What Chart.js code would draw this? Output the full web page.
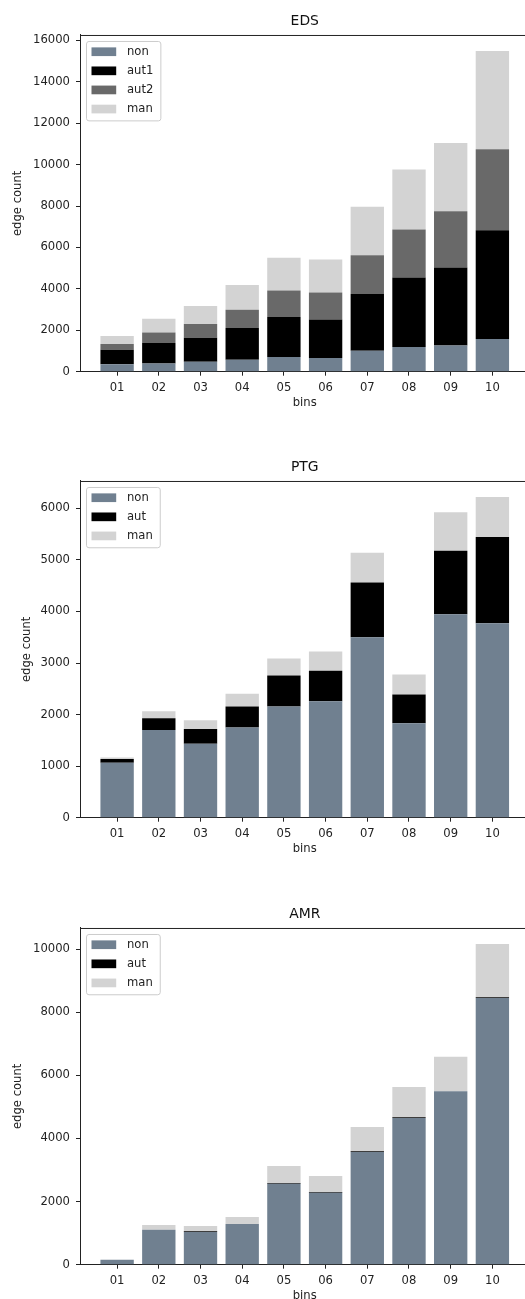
<!DOCTYPE html>
<html>
<head>
<meta charset="utf-8">
<script src="https://cdn.jsdelivr.net/npm/chart.js@4.4.1/dist/chart.umd.min.js"></script>
<style>
  html, body { margin: 0; padding: 0; background: #fff; overflow: hidden; }
  .fig { position: absolute; left: 0; width: 609px; height: 446px; }
</style>
</head>
<body>
<div class="fig" style="top:0px"><canvas id="eds" width="609" height="446"></canvas></div>
<div class="fig" style="top:446px"><canvas id="ptg" width="609" height="446"></canvas></div>
<div class="fig" style="top:893px"><canvas id="amr" width="609" height="446"></canvas></div>
<script>
const bins = ["01", "02", "03", "04", "05", "06", "07", "08", "09", "10"];

// EDS
const edsNon  = [354, 402, 482, 579, 708, 659, 1013, 1190, 1270, 1585];
const edsAut1 = [707, 981, 1158, 1527, 1929, 1866, 2734, 3361, 3763, 5250];
const edsAut2 = [274, 514, 659, 885, 1286, 1302, 1881, 2315, 2717, 3907];
const edsMan  = [385, 660, 869, 1190, 1576, 1592, 2332, 2894, 3297, 4744];

// PTG
const ptgNon = [1066, 1699, 1434, 1750, 2157, 2261, 3501, 1834, 3946, 3772];
const ptgAut = [71, 232, 284, 407, 601, 587, 1059, 556, 1234, 1673];
const ptgMan = [32, 136, 174, 246, 329, 375, 581, 387, 743, 775];

// AMR
const amrNon = [158, 1109, 1035, 1288, 2566, 2281, 3569, 4646, 5491, 8448];
const amrAut = [0, 0, 25, 0, 25, 25, 25, 25, 0, 25];
const amrMan = [0, 148, 165, 222, 535, 503, 767, 957, 1098, 1685];

const SLATE = "#708090", BLACK = "#000000", DIM = "#696969", LIGHT = "#d3d3d3";

Chart.defaults.font.family = "'DejaVu Sans', sans-serif";
Chart.defaults.font.size = 11.6;
Chart.defaults.color = "#222";

// matplotlib style frame + legend box in the upper left
const frameLegend = {
    id: "frameLegend",
    afterDraw(chart) {
        const ctx = chart.ctx;
        const a = chart.chartArea;
        ctx.save();
        ctx.strokeStyle = "#222";
        ctx.lineWidth = 1;
        ctx.beginPath();
        ctx.moveTo(a.left, a.top + 0.5);
        ctx.lineTo(a.right, a.top + 0.5);
        ctx.lineTo(a.right, a.bottom);
        ctx.stroke();

        const sets = chart.data.datasets;
        ctx.font = "11.6px 'DejaVu Sans'";
        const tw = Math.max(...sets.map(d => ctx.measureText(d.label).width));
        const x = a.left + 6.5, y = a.top + 6.5;
        const w = tw + 48, h = sets.length * 19.1 + 3;
        ctx.beginPath();
        ctx.roundRect(x, y, w, h, 2.5);
        ctx.fillStyle = "rgba(255,255,255,0.8)";
        ctx.fill();
        ctx.strokeStyle = "#cccccc";
        ctx.stroke();
        ctx.textBaseline = "middle";
        sets.forEach((d, i) => {
            const cy = y + 10.2 + i * 19.1;
            ctx.fillStyle = d.backgroundColor;
            ctx.fillRect(x + 5, cy - 4.3, 24.7, 8.7);
            ctx.fillStyle = "#222";
            ctx.fillText(d.label, x + 40.5, cy);
        });
        ctx.restore();
    }
};

function makeChart(id, title, series, yStep, yTitlePad) {
    const totals = bins.map((_, i) => series.reduce((s, d) => s + d.data[i], 0));
    const yMax = Math.max(...totals) * 1.05;

    new Chart(document.getElementById(id), {
        type: "bar",
        data: {
            datasets: series.map(s => ({
                label: s.label,
                data: s.data.map((v, i) => ({ x: i, y: v })),
                backgroundColor: s.color,
                borderWidth: 0,
                categoryPercentage: 1,
                barPercentage: 0.8
            }))
        },
        options: {
            responsive: false,
            animation: false,
            devicePixelRatio: 1,
            layout: { padding: { left: 0, right: 79.5, top: 0, bottom: 34.3 } },
            plugins: {
                legend: { display: false },
                tooltip: { enabled: false },
                title: {
                    display: true,
                    text: title,
                    fullSize: false,
                    color: "#111",
                    font: { size: 13.9, weight: "normal" },
                    padding: { top: 12.7, bottom: 5.6 }
                }
            },
            scales: {
                x: {
                    type: "linear",
                    stacked: true,
                    offset: false,
                    min: -0.89,
                    max: 9.89,
                    grid: { display: true, offset: false, drawOnChartArea: false, drawTicks: true, tickLength: 4, tickColor: "#222" },
                    border: { display: true, color: "#222", width: 1 },
                    ticks: {
                        stepSize: 1,
                        includeBounds: false,
                        autoSkip: false,
                        maxRotation: 0,
                        padding: 5,
                        callback: v => bins[v] !== undefined ? bins[v] : ""
                    },
                    title: { display: true, text: "bins", padding: { top: 0, bottom: 2 } },
                    afterFit: s => { s.height = 40; }
                },
                y: {
                    stacked: true,
                    min: 0,
                    max: yMax,
                    grid: { display: true, drawOnChartArea: false, drawTicks: true, tickLength: 4, tickColor: "#222" },
                    border: { display: true, color: "#222", width: 1 },
                    ticks: {
                        padding: 6,
                        callback: v => String(v)
                    },
                    afterBuildTicks: s => {
                        const t = [];
                        for (let v = 0; v <= s.max; v += yStep) t.push({ value: v });
                        s.ticks = t;
                    },
                    title: { display: true, text: "edge count", padding: { top: yTitlePad, bottom: 0 } },
                    afterFit: s => { s.width = 80; }
                }
            }
        },
        plugins: [frameLegend]
    });
}

makeChart("eds", "EDS", [
    { label: "non", data: edsNon, color: SLATE },
    { label: "aut1", data: edsAut1, color: BLACK },
    { label: "aut2", data: edsAut2, color: DIM },
    { label: "man", data: edsMan, color: LIGHT }
], 2000, 11);

makeChart("ptg", "PTG", [
    { label: "non", data: ptgNon, color: SLATE },
    { label: "aut", data: ptgAut, color: BLACK },
    { label: "man", data: ptgMan, color: LIGHT }
], 1000, 19.7);

makeChart("amr", "AMR", [
    { label: "non", data: amrNon, color: SLATE },
    { label: "aut", data: amrAut, color: BLACK },
    { label: "man", data: amrMan, color: LIGHT }
], 2000, 11);
</script>
</body>
</html>
